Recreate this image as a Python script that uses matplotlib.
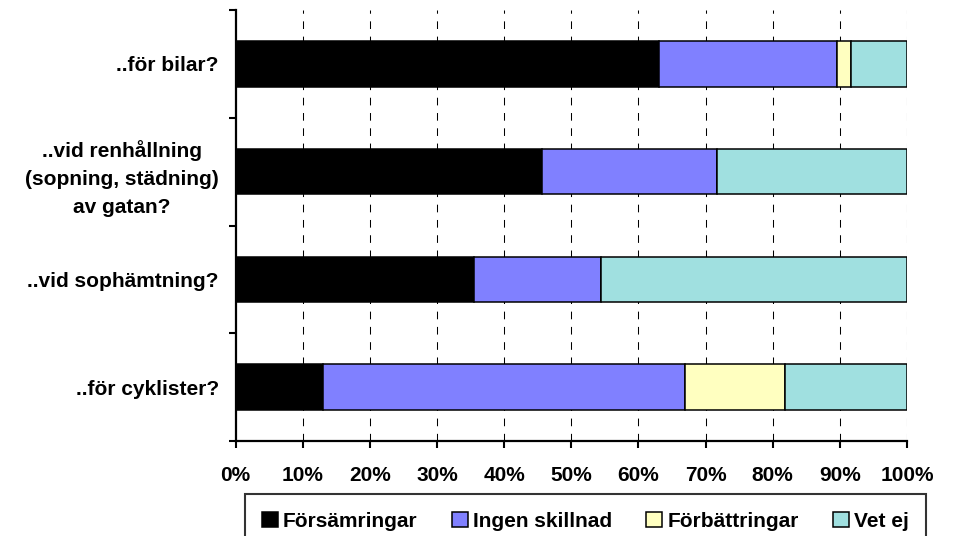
import matplotlib
matplotlib.use("Agg")
import matplotlib.pyplot as plt
from matplotlib.patches import Patch
import numpy as np

plt.rcParams['font.family'] = ['Liberation Sans', 'DejaVu Sans']
plt.rcParams['font.weight'] = 'bold'
plt.rcParams['lines.scale_dashes'] = False

# Survey questions, listed top to bottom
questions = [
    "..för bilar?",
    "..vid renhållning\n(sopning, städning)\nav gatan?",
    "..vid sophämtning?",
    "..för cyklister?",
]

series_names = ["Försämringar", "Ingen skillnad", "Förbättringar", "Vet ej"]
series_colors = ["#000000", "#8080FF", "#FFFFC0", "#A0E0E0"]

# Share of answers (%) per question, same order as `questions`
forsamringar = [63.0, 45.6, 35.5, 13.1]
ingen_skillnad = [26.6, 26.1, 19.0, 53.8]
forbattringar = [2.1, 0.0, 0.0, 15.0]
vet_ej = [8.3, 28.3, 45.5, 18.1]

x_ticks = [0, 10, 20, 30, 40, 50, 60, 70, 80, 90, 100]
x_tick_labels = [f"{t}%" for t in x_ticks]

series = [forsamringar, ingen_skillnad, forbattringar, vet_ej]

fig = plt.figure(figsize=(9.55, 5.36), dpi=100)
ax = fig.add_axes([235.5 / 955, 1 - 441 / 536, (907 - 235.5) / 955, 431 / 536])

n = len(questions)
ypos = np.arange(n)[::-1]  # first question at the top
left = np.zeros(n)
for vals, name, col in zip(series, series_names, series_colors):
    vals = np.asarray(vals, dtype=float)
    ax.barh(ypos, vals, left=left, height=0.42, color=col,
            edgecolor="black", linewidth=1.1, label=name, zorder=3)
    left += vals

ax.set_xlim(0, 100)
ax.set_ylim(-0.5, n - 0.5)

# Vertical dashed gridlines
ax.set_xticks(x_ticks)
ax.set_xticklabels(x_tick_labels, fontsize=15, fontweight='bold')
for t in x_ticks[1:]:
    ax.axvline(t, color="black", linewidth=0.75, linestyle=(0, (5.5, 5.5)), zorder=1)

# Category separators as major ticks, labels on minor ticks
ax.set_yticks(np.arange(-0.5, n, 1.0))
ax.set_yticklabels([])
ax.set_yticks(ypos, minor=True)
ax.set_yticklabels(questions, minor=True, fontsize=15, fontweight='bold',
                   multialignment='center', linespacing=1.6)
ax.tick_params(axis='y', which='minor', length=0, pad=12)
ax.tick_params(axis='y', which='major', length=5, width=1.5, direction='out')
ax.tick_params(axis='x', which='major', length=5, width=1.5, direction='out', pad=13)

for side in ("top", "right"):
    ax.spines[side].set_visible(False)
for side in ("left", "bottom"):
    ax.spines[side].set_linewidth(1.6)

handles = [Patch(facecolor=c, edgecolor="black", linewidth=1.1, label=nm)
           for c, nm in zip(series_colors, series_names)]
leg = fig.legend(handles=handles, loc="upper center", ncol=4,
                 bbox_to_anchor=(585.5 / 955, 1 - 494 / 536),
                 prop={'size': 15, 'weight': 'bold'},
                 frameon=True, fancybox=False, edgecolor="black",
                 handlelength=0.75, handleheight=0.75, handletextpad=0.25,
                 columnspacing=1.65, borderpad=0.85, borderaxespad=0)
leg.get_frame().set_linewidth(1.5)

fig.savefig("out.png", dpi=100)
